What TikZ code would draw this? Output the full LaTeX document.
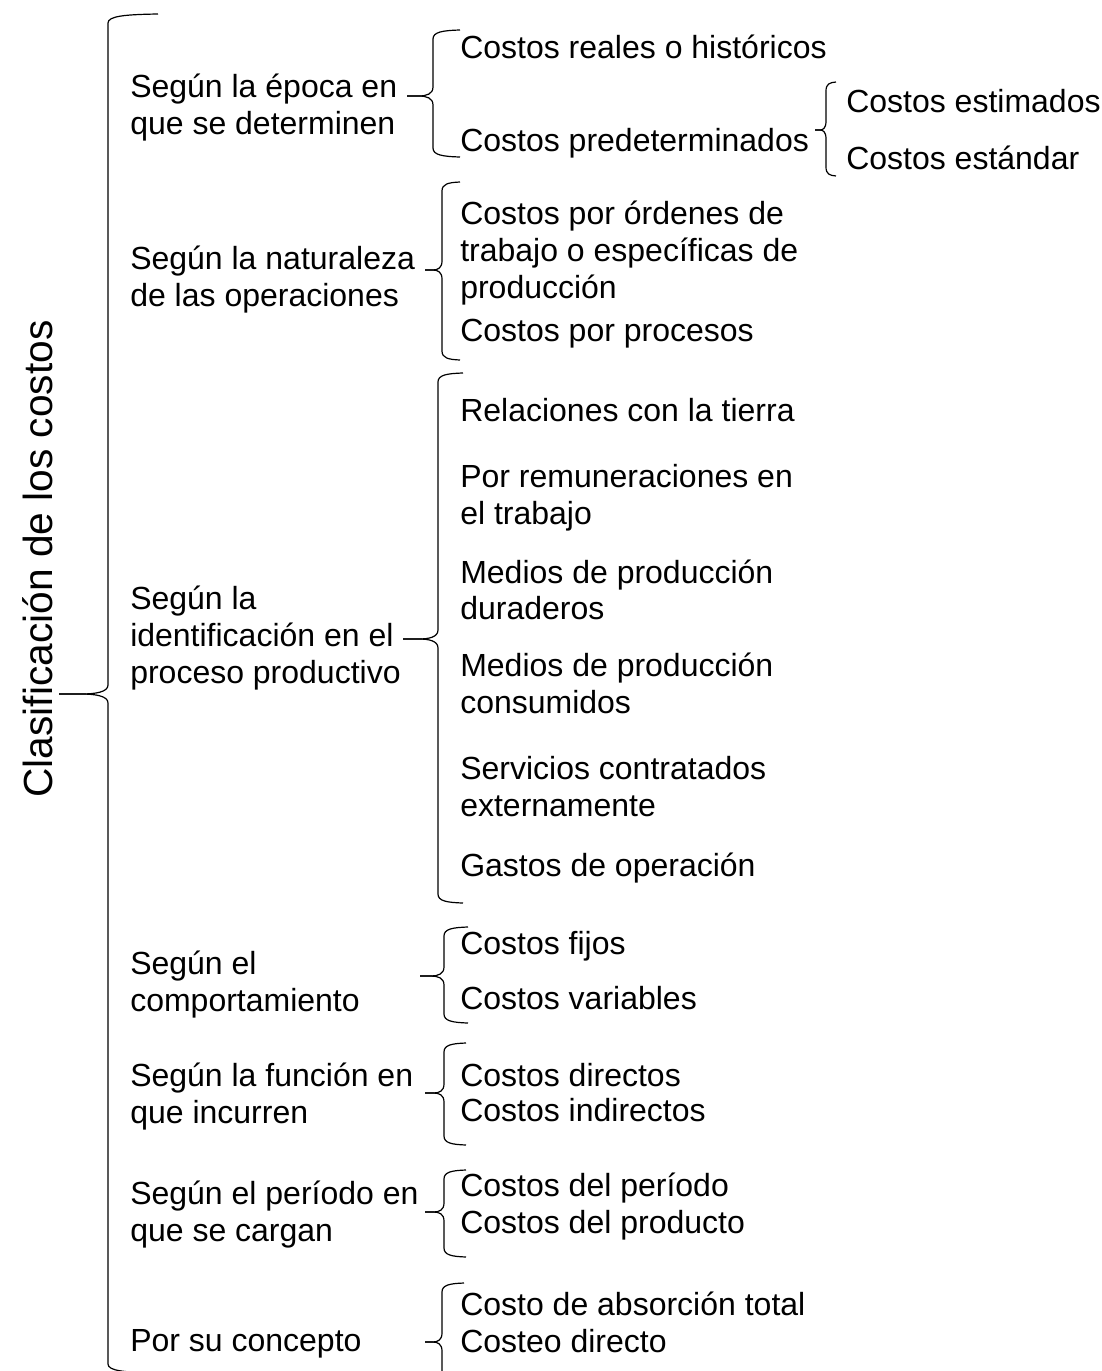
\documentclass[tikz,border=0pt]{standalone}
\usepackage{fontspec}
\setmainfont{Liberation Sans}
\newcommand{\mybrace}[6]{% x, ytop, ymid, ybot, tipx, endx
  \draw[bracestyle] (#6,#2) .. controls ({#1+0.35*(#6-#1)},#2+0.5) and (#1,#2+2) .. (#1,#2+9)
    -- (#1,#3-9) .. controls (#1,#3-2) and ({#1-0.25*(#1-#5)},#3) .. ({#1-0.55*(#1-#5)},#3) -- (#5,#3);
  \draw[bracestyle] (#5,#3) -- ({#1-0.55*(#1-#5)},#3) .. controls ({#1-0.25*(#1-#5)},#3) and (#1,#3+2) .. (#1,#3+9)
    -- (#1,#4-9) .. controls (#1,#4-2) and ({#1+0.35*(#6-#1)},#4-0.5) .. (#6,#4);
}
\begin{document}
\begin{tikzpicture}[x=0.75pt,y=-0.75pt,
  bracestyle/.style={line width=0.9pt, black},
  txt/.style={font=\fontsize{24}{28}\selectfont, inner sep=0pt, anchor=base west},
  big/.style={font=\fontsize{30.5}{36}\selectfont, inner sep=0pt, anchor=base, rotate=90}]
\useasboundingbox (0,0) rectangle (1102,1371);
% root
\node[big] (root) at (52,559) {Clasificación de los costos};
% categories
\node[txt] (s1a) at (130,97) {Según la época en};
\node[txt] (s1b) at (130,134) {que se determinen};
\node[txt] (s2a) at (130,269) {Según la naturaleza};
\node[txt] (s2b) at (130,306) {de las operaciones};
\node[txt] (s3a) at (130,609) {Según la};
\node[txt] (s3b) at (130,646) {identificación en el};
\node[txt] (s3c) at (130,683) {proceso productivo};
\node[txt] (s4a) at (130,974) {Según el};
\node[txt] (s4b) at (130,1011) {comportamiento};
\node[txt] (s5a) at (130,1086) {Según la función en};
\node[txt] (s5b) at (130,1123) {que incurren};
\node[txt] (s6a) at (130,1204) {Según el período en};
\node[txt] (s6b) at (130,1241) {que se cargan};
\node[txt] (s7) at (130,1351) {Por su concepto};
% items
\node[txt] (i1) at (460,58) {Costos reales o históricos};
\node[txt] (i2) at (460,151) {Costos predeterminados};
\node[txt] (i3a) at (460,224) {Costos por órdenes de};
\node[txt] (i3b) at (460,261) {trabajo o específicas de};
\node[txt] (i3c) at (460,298) {producción};
\node[txt] (i4) at (460,341) {Costos por procesos};
\node[txt] (i5) at (460,421) {Relaciones con la tierra};
\node[txt] (i6a) at (460,487) {Por remuneraciones en};
\node[txt] (i6b) at (460,524) {el trabajo};
\node[txt] (i7a) at (460,583) {Medios de producción};
\node[txt] (i7b) at (460,619) {duraderos};
\node[txt] (i8a) at (460,676) {Medios de producción};
\node[txt] (i8b) at (460,713) {consumidos};
\node[txt] (i9a) at (460,779) {Servicios contratados};
\node[txt] (i9b) at (460,816) {externamente};
\node[txt] (i10) at (460,876) {Gastos de operación};
\node[txt] (i11) at (460,954) {Costos fijos};
\node[txt] (i12) at (460,1009) {Costos variables};
\node[txt] (i13) at (460,1086) {Costos directos};
\node[txt] (i14) at (460,1121) {Costos indirectos};
\node[txt] (i15) at (460,1196) {Costos del período};
\node[txt] (i16) at (460,1233) {Costos del producto};
\node[txt] (i17) at (460,1315) {Costo de absorción total};
\node[txt] (i18) at (460,1352) {Costeo directo};
\node[txt] (j1) at (846,112) {Costos estimados};
\node[txt] (j2) at (846,169) {Costos estándar};
% braces
\mybrace{108}{14}{694}{1373}{59}{158}
\mybrace{433}{30}{96}{157}{407}{460}
\mybrace{826}{82}{130}{176}{815}{836}
\mybrace{442}{182}{270}{360}{425}{460}
\mybrace{438}{373}{639}{903}{403}{463}
\mybrace{444}{927}{976}{1023}{420}{468}
\mybrace{444}{1043}{1093}{1145}{425}{466}
\mybrace{444}{1170}{1212}{1257}{425}{466}
\mybrace{442}{1283}{1342}{1401}{425}{464}
\end{tikzpicture}
\end{document}
